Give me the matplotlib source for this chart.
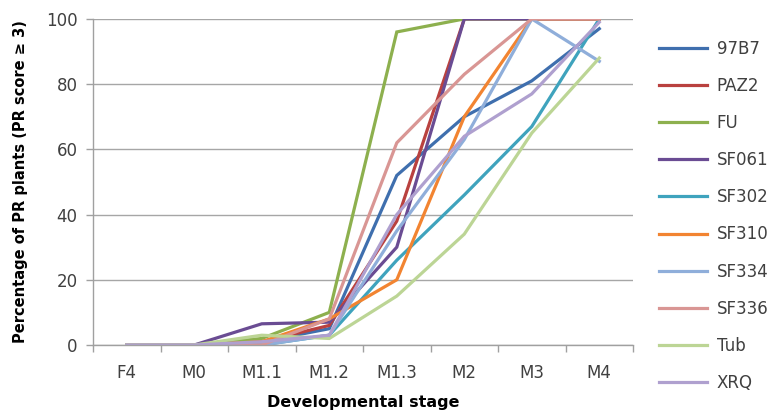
import matplotlib
matplotlib.use("Agg")
import matplotlib.pyplot as plt

plt.rcParams["font.family"] = ["DejaVu Sans"]

stages = ["F4", "M0", "M1.1", "M1.2", "M1.3", "M2", "M3", "M4"]

s_97B7 = [0, 0, 1, 5, 52, 70, 81, 97]
s_PAZ2 = [0, 0, 1, 6, 38, 100, 100, 100]
s_FU = [0, 0, 2, 10, 96, 100, 100, 100]
s_SF061 = [0, 0, 6.5, 7, 30, 100, 100, 100]
s_SF302 = [0, 0, 0, 3, 26, 46, 67, 100]
s_SF310 = [0, 0, 1, 8, 20, 70, 100, 100]
s_SF334 = [0, 0, 0, 3, 35, 63, 100, 87]
s_SF336 = [0, 0, 0, 8, 62, 83, 100, 100]
s_Tub = [0, 0, 3, 2, 15, 34, 65, 88]
s_XRQ = [0, 0, 1, 3, 40, 64, 77, 99]

names = ["97B7", "PAZ2", "FU", "SF061", "SF302", "SF310", "SF334", "SF336", "Tub", "XRQ"]
series = [s_97B7, s_PAZ2, s_FU, s_SF061, s_SF302, s_SF310, s_SF334, s_SF336, s_Tub, s_XRQ]
colors = ["#3F6FAE", "#B9413F", "#8DB04E", "#6A4C93", "#3FA3BD",
          "#F28431", "#8FAEDA", "#D99694", "#BCD595", "#AFA0CF"]

fig = plt.figure(figsize=(7.72, 4.11), dpi=100)
ax = fig.add_axes([0.1205, 0.1606, 0.6995, 0.7934])

x = range(len(stages))
for name, vals, col in zip(names, series, colors):
    ax.plot(x, vals, color=col, lw=2.3, label=name, solid_joinstyle="miter")

ax.set_xlim(-0.5, len(stages) - 0.5)
ax.set_ylim(0, 100)
ax.set_yticks(range(0, 101, 20))
ax.set_xticks(list(x))
ax.set_xticklabels(stages)
ax.set_xticks([i - 0.5 for i in range(len(stages) + 1)], minor=True)
ax.tick_params(axis="x", which="major", length=0, pad=14, labelsize=12, labelcolor="#404040")
ax.tick_params(axis="x", which="minor", length=5, color="#a0a0a0", width=1)
ax.tick_params(axis="y", length=5, color="#a0a0a0", width=1, labelsize=12, pad=6,
               labelcolor="#404040")

ax.grid(axis="y", color="#a6a6a6", lw=1)
ax.set_axisbelow(True)
for sp in ["top", "right"]:
    ax.spines[sp].set_visible(False)
for sp in ["left", "bottom"]:
    ax.spines[sp].set_color("#a0a0a0")
    ax.spines[sp].set_linewidth(1)

ax.set_xlabel("Developmental stage", fontweight="bold", fontsize=11.5, labelpad=9)
ax.set_ylabel("Percentage of PR plants (PR score \u2265 3)", fontweight="bold",
              fontsize=10.5, labelpad=13)

fig.legend(loc="upper left", bbox_to_anchor=(0.845, 0.92), frameon=False,
           fontsize=12, handlelength=2.9, handletextpad=0.55,
           labelspacing=1.15, borderaxespad=0, labelcolor="#404040")

fig.savefig("out.png", dpi=100)
